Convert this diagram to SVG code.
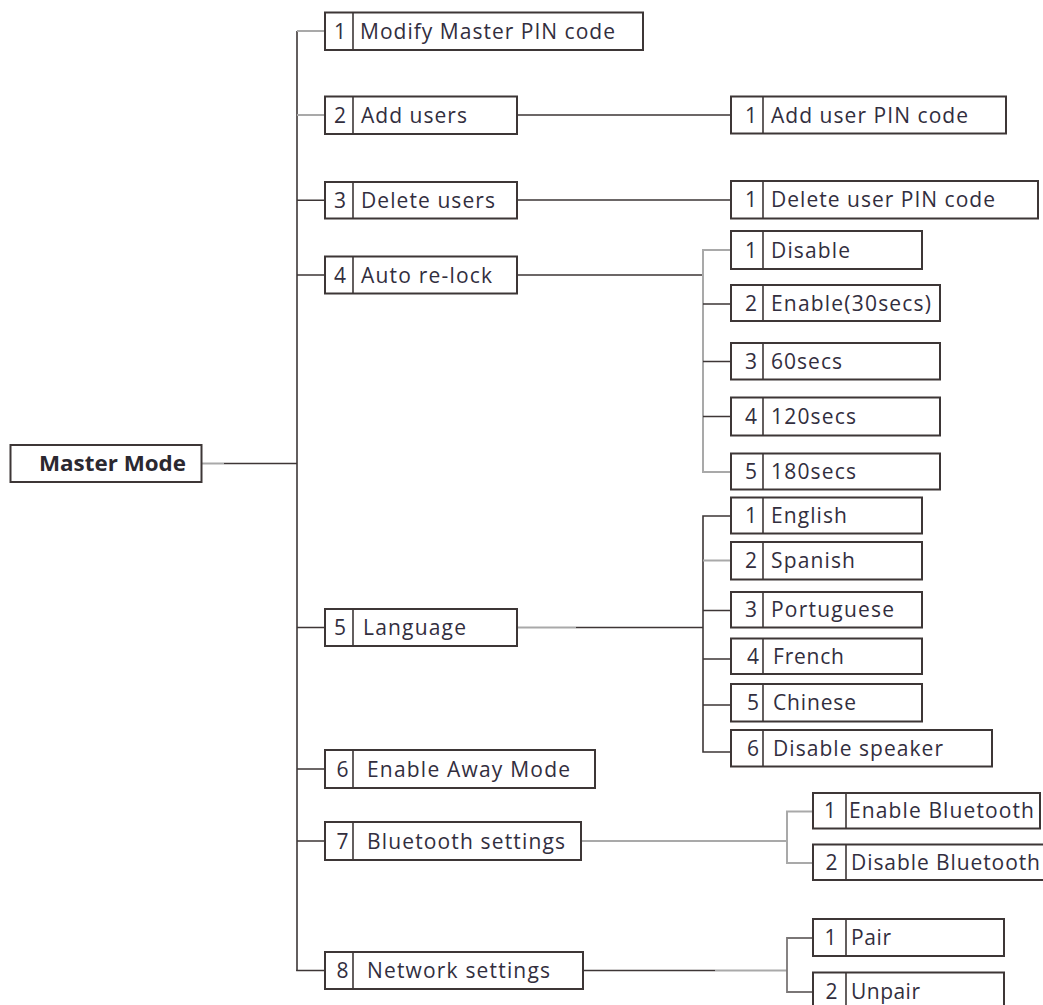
<svg xmlns="http://www.w3.org/2000/svg" width="1043" height="1005" viewBox="0 0 1043 1005">
<style>
.bx{fill:#fff;stroke:#3d3636;stroke-width:2}
.dv{stroke:#3d3636;stroke-width:1.6}
.t{font-family:"Open Sans","Noto Sans","Liberation Sans",sans-serif;font-size:21px;font-weight:500;fill:#322e3e}
.n{text-anchor:middle}
.b{font-weight:bold;fill:#2b2830}
.d{fill:none;stroke:#3d3636;stroke-width:1.6}
.g{fill:none;stroke:#a9a9a9;stroke-width:2}
.m{fill:none;stroke:#7a7676;stroke-width:1.8}
</style>
<rect width="1043" height="1005" fill="#fff"/>
<g id="connectors">
<path class="d" d="M297,31 V971"/>
<path class="g" d="M202,463.5 H224"/>
<path class="d" d="M224,463.5 H297"/>
<path class="g" d="M297,31 H325 M297,115 H325"/>
<path class="d" d="M297,200.25 H325 M297,275 H325 M297,627.5 H325 M297,769 H325 M297,841 H325 M296.2,970.5 H325"/>
<path class="d" d="M517,115 H731 M517,200 H731 M517,275 H703"/>
<path class="g" d="M731,250 H703 V472 H731"/>
<path class="d" d="M703,304 H731 M703,361.5 H731 M703,416.5 H731"/>
<path class="g" d="M517,627.5 H576"/>
<path class="d" d="M576,627.5 H703"/>
<path class="d" d="M731,516 H703 V752 H731 M703,610.5 H731 M703,659 H731 M703,705 H731"/>
<path class="g" d="M703,560.5 H731"/>
<path class="g" d="M581,841 H787 M813,811.5 H787 V863 H813"/>
<path class="d" d="M583,970.5 H715"/>
<path class="g" d="M715,970.5 H787"/>
<path class="m" d="M813,938 H787 V992 H813"/>
</g>
<g id="master-mode">
<rect class="bx" x="10.5" y="445" width="191" height="37"/>
<text class="t b" x="39" y="471" textLength="147" lengthAdjust="spacingAndGlyphs">Master Mode</text>
</g>
<g id="n1">
<rect class="bx" x="325" y="12.5" width="318" height="37.5"/>
<line class="dv" x1="353" y1="12.5" x2="353" y2="50"/>
<text class="t n" x="340" y="39">1</text>
<text class="t" x="360" y="39" textLength="255" lengthAdjust="spacing">Modify Master PIN code</text>
</g>
<g id="n2">
<rect class="bx" x="325" y="96.5" width="192" height="37.5"/>
<line class="dv" x1="353" y1="96.5" x2="353" y2="134"/>
<text class="t n" x="340" y="123">2</text>
<text class="t" x="361" y="123" textLength="106" lengthAdjust="spacing">Add users</text>
</g>
<g id="n3">
<rect class="bx" x="325" y="182" width="192" height="36.5"/>
<line class="dv" x1="353" y1="182" x2="353" y2="218.5"/>
<text class="t n" x="340" y="207.5">3</text>
<text class="t" x="361" y="207.5" textLength="134" lengthAdjust="spacing">Delete users</text>
</g>
<g id="n4">
<rect class="bx" x="325" y="256.5" width="192" height="37"/>
<line class="dv" x1="353" y1="256.5" x2="353" y2="293.5"/>
<text class="t n" x="340" y="282.5">4</text>
<text class="t" x="361" y="282.5" textLength="131" lengthAdjust="spacing">Auto re-lock</text>
</g>
<g id="n5">
<rect class="bx" x="325" y="609" width="192" height="37"/>
<line class="dv" x1="353" y1="609" x2="353" y2="646"/>
<text class="t n" x="340" y="635">5</text>
<text class="t" x="363" y="635" textLength="103" lengthAdjust="spacing">Language</text>
</g>
<g id="n6">
<rect class="bx" x="325" y="750" width="270" height="38"/>
<line class="dv" x1="353" y1="750" x2="353" y2="788"/>
<text class="t n" x="342.5" y="776.5">6</text>
<text class="t" x="367" y="776.5" textLength="203" lengthAdjust="spacing">Enable Away Mode</text>
</g>
<g id="n7">
<rect class="bx" x="325" y="822" width="256" height="38"/>
<line class="dv" x1="353" y1="822" x2="353" y2="860"/>
<text class="t n" x="342.5" y="848.5">7</text>
<text class="t" x="367" y="848.5" textLength="198" lengthAdjust="spacing">Bluetooth settings</text>
</g>
<g id="n8">
<rect class="bx" x="325" y="952" width="258" height="37"/>
<line class="dv" x1="353" y1="952" x2="353" y2="989"/>
<text class="t n" x="342.5" y="978">8</text>
<text class="t" x="367" y="978" textLength="183" lengthAdjust="spacing">Network settings</text>
</g>
<g id="n2-1">
<rect class="bx" x="731" y="96.5" width="275" height="37"/>
<line class="dv" x1="763" y1="96.5" x2="763" y2="133.5"/>
<text class="t n" x="751" y="122.5">1</text>
<text class="t" x="771" y="122.5" textLength="197" lengthAdjust="spacing">Add user PIN code</text>
</g>
<g id="n3-1">
<rect class="bx" x="731" y="181" width="307" height="37.5"/>
<line class="dv" x1="763" y1="181" x2="763" y2="218.5"/>
<text class="t n" x="751" y="207">1</text>
<text class="t" x="771" y="207" textLength="224" lengthAdjust="spacing">Delete user PIN code</text>
</g>
<g id="n4-1">
<rect class="bx" x="731" y="231" width="191" height="38"/>
<line class="dv" x1="763" y1="231" x2="763" y2="269"/>
<text class="t n" x="751" y="257.5">1</text>
<text class="t" x="771" y="257.5" textLength="79" lengthAdjust="spacing">Disable</text>
</g>
<g id="n4-2">
<rect class="bx" x="731" y="285" width="209" height="36"/>
<line class="dv" x1="763" y1="285" x2="763" y2="321"/>
<text class="t n" x="751" y="310.5">2</text>
<text class="t" x="771" y="310.5" textLength="160" lengthAdjust="spacing">Enable(30secs)</text>
</g>
<g id="n4-3">
<rect class="bx" x="731" y="343" width="209" height="36.5"/>
<line class="dv" x1="763" y1="343" x2="763" y2="379.5"/>
<text class="t n" x="751" y="368.5">3</text>
<text class="t" x="771" y="368.5" textLength="71" lengthAdjust="spacing">60secs</text>
</g>
<g id="n4-4">
<rect class="bx" x="731" y="397.5" width="209" height="38"/>
<line class="dv" x1="763" y1="397.5" x2="763" y2="435.5"/>
<text class="t n" x="751" y="424">4</text>
<text class="t" x="771" y="424" textLength="85" lengthAdjust="spacing">120secs</text>
</g>
<g id="n4-5">
<rect class="bx" x="731" y="453.5" width="209" height="36"/>
<line class="dv" x1="763" y1="453.5" x2="763" y2="489.5"/>
<text class="t n" x="751" y="479">5</text>
<text class="t" x="771" y="479" textLength="85" lengthAdjust="spacing">180secs</text>
</g>
<g id="n5-1">
<rect class="bx" x="731" y="497.5" width="191" height="36"/>
<line class="dv" x1="763" y1="497.5" x2="763" y2="533.5"/>
<text class="t n" x="751" y="523">1</text>
<text class="t" x="771" y="523" textLength="76" lengthAdjust="spacing">English</text>
</g>
<g id="n5-2">
<rect class="bx" x="731" y="542" width="191" height="37.5"/>
<line class="dv" x1="763" y1="542" x2="763" y2="579.5"/>
<text class="t n" x="751" y="568">2</text>
<text class="t" x="771" y="568" textLength="84" lengthAdjust="spacing">Spanish</text>
</g>
<g id="n5-3">
<rect class="bx" x="731" y="592" width="191" height="35.5"/>
<line class="dv" x1="763" y1="592" x2="763" y2="627.5"/>
<text class="t n" x="751" y="617">3</text>
<text class="t" x="771" y="617" textLength="123" lengthAdjust="spacing">Portuguese</text>
</g>
<g id="n5-4">
<rect class="bx" x="731" y="638.5" width="191" height="35.5"/>
<line class="dv" x1="763" y1="638.5" x2="763" y2="674"/>
<text class="t n" x="753" y="664">4</text>
<text class="t" x="773" y="664" textLength="71" lengthAdjust="spacing">French</text>
</g>
<g id="n5-5">
<rect class="bx" x="731" y="684" width="191" height="37.5"/>
<line class="dv" x1="763" y1="684" x2="763" y2="721.5"/>
<text class="t n" x="753" y="710">5</text>
<text class="t" x="773" y="710" textLength="83" lengthAdjust="spacing">Chinese</text>
</g>
<g id="n5-6">
<rect class="bx" x="731" y="730" width="261" height="36.5"/>
<line class="dv" x1="763" y1="730" x2="763" y2="766.5"/>
<text class="t n" x="753" y="756">6</text>
<text class="t" x="773" y="756" textLength="170" lengthAdjust="spacing">Disable speaker</text>
</g>
<g id="n7-1">
<rect class="bx" x="813" y="793" width="227" height="35.5"/>
<line class="dv" x1="846" y1="793" x2="846" y2="828.5"/>
<text class="t n" x="830" y="818">1</text>
<text class="t" x="849" y="818" textLength="185" lengthAdjust="spacing">Enable Bluetooth</text>
</g>
<g id="n7-2">
<rect class="bx" x="813" y="844.5" width="240" height="35.5"/>
<line class="dv" x1="846" y1="844.5" x2="846" y2="880"/>
<text class="t n" x="831.5" y="870">2</text>
<text class="t" x="851" y="870" textLength="189" lengthAdjust="spacing">Disable Bluetooth</text>
</g>
<g id="n8-1">
<rect class="bx" x="813" y="919" width="191" height="37"/>
<line class="dv" x1="846" y1="919" x2="846" y2="956"/>
<text class="t n" x="830.5" y="945">1</text>
<text class="t" x="851" y="945" textLength="40" lengthAdjust="spacing">Pair</text>
</g>
<g id="n8-2">
<rect class="bx" x="813" y="972.5" width="191" height="37"/>
<line class="dv" x1="846" y1="972.5" x2="846" y2="1009.5"/>
<text class="t n" x="831.5" y="999">2</text>
<text class="t" x="851" y="999" textLength="69" lengthAdjust="spacing">Unpair</text>
</g>
</svg>
